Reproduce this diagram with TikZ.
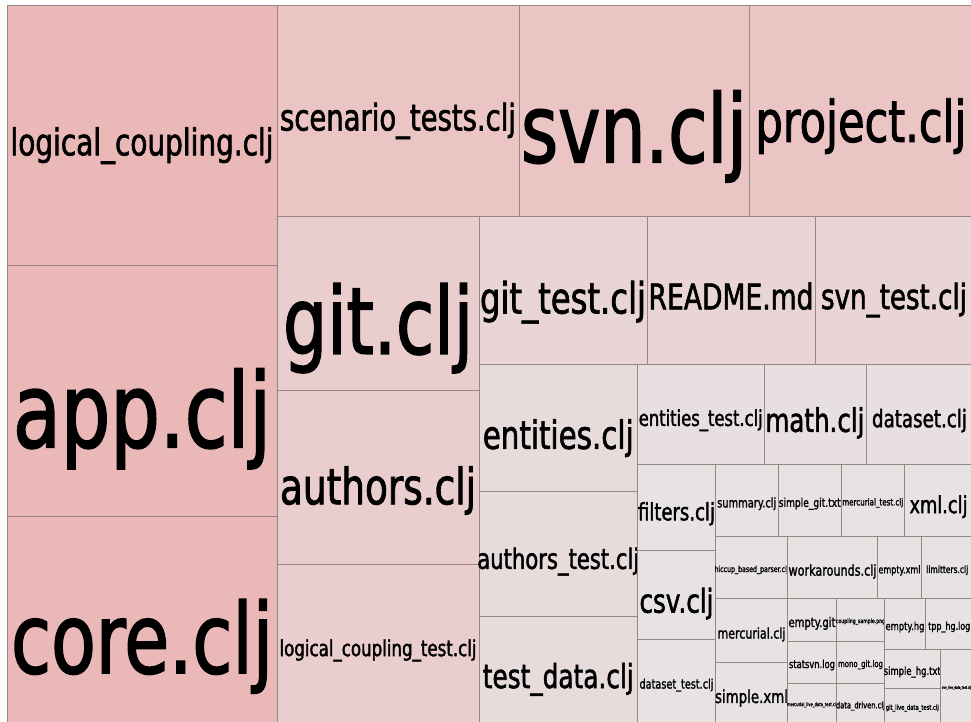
\documentclass[tikz,border=0pt]{standalone}
\usepackage{fontspec}
\setmainfont{DejaVu Sans}[FakeStretch=0.75, FakeBold=1.6]
\usepackage{tikz}
\tikzstyle{treemap} = [x = 0.02cm, y = -0.02cm]
\definecolor{cellBorder}{RGB}{150,134,134}
\definecolor{heatOne}{HTML}{EBB8B8}
\definecolor{heatTwo}{HTML}{EBC4C4}
\definecolor{heatThree}{HTML}{EACDCD}
\definecolor{heatFour}{HTML}{E9D5D5}
\definecolor{heatFive}{HTML}{E8DBDB}
\definecolor{heatSix}{HTML}{E8E0E0}
\definecolor{heatSeven}{HTML}{E7E3E3}
\tikzstyle{cellStyle} = [draw=cellBorder, line width=0.5pt]
\tikzstyle{cellText} = [anchor=base, inner sep=0pt, text=black]
\newlength{\labelWidth}
\newcommand{\fitText}[2]{\settowidth{\labelWidth}{\fontsize{10pt}{10pt}\selectfont #2}\pgfmathsetmacro{\labelSize}{10 * #1 * 0.569 / \labelWidth}\fontsize{\labelSize pt}{\labelSize pt}\selectfont\raisebox{-1ex}{#2}}
\newcommand{\fileCell}[8]{
  \filldraw [cellStyle, fill=#6] (#2, #3) rectangle (#4, #5);
  \node [cellText] (#1) at ({(#2 + #4) / 2}, {(#3 + #5) / 2}) {\fitText{#7}{#8}};
}

\begin{document}
\begin{tikzpicture}[treemap]
        \useasboundingbox (0, 0) rectangle (971, 722);
        \fileCell{logicalCoupling}{7}{5}{277}{265}{heatOne}{263}{logical\_coupling.clj}
        \fileCell{app}{7}{265}{277}{516}{heatOne}{258}{app.clj}
        \fileCell{core}{7}{516}{277}{724}{heatOne}{262}{core.clj}
        \fileCell{scenarioTests}{277}{5}{519}{216}{heatTwo}{236}{scenario\_tests.clj}
        \fileCell{svn}{519}{5}{749}{216}{heatTwo}{226}{svn.clj}
        \fileCell{project}{749}{5}{973}{216}{heatTwo}{211}{project.clj}
        \fileCell{git}{277}{216}{479}{390}{heatThree}{190}{git.clj}
        \fileCell{authors}{277}{390}{479}{564}{heatThree}{196}{authors.clj}
        \fileCell{logicalCouplingTest}{277}{564}{479}{724}{heatThree}{197}{logical\_coupling\_test.clj}
        \fileCell{gitTest}{479}{216}{647}{364}{heatFour}{166}{git\_test.clj}
        \fileCell{readme}{647}{216}{815}{364}{heatFour}{165}{README.md}
        \fileCell{svnTest}{815}{216}{973}{364}{heatFour}{146}{svn\_test.clj}
        \fileCell{entities}{479}{364}{637.5}{491}{heatFive}{151}{entities.clj}
        \fileCell{authorsTest}{479}{491}{637.5}{616}{heatFive}{162}{authors\_test.clj}
        \fileCell{testData}{479}{616}{637.5}{724}{heatFive}{151}{test\_data.clj}
        \fileCell{entitiesTest}{637.5}{364}{764}{464}{heatSix}{124}{entities\_test.clj}
        \fileCell{math}{764}{364}{866}{464}{heatSix}{99}{math.clj}
        \fileCell{dataset}{866}{364}{973}{464}{heatSix}{95}{dataset.clj}
        % the many small files
        \fileCell{filters}{637.5}{464}{715.5}{550.5}{heatSeven}{77}{filters.clj}
        \fileCell{csv}{637.5}{550.5}{715.5}{639}{heatSeven}{74}{csv.clj}
        \fileCell{datasetTest}{637.5}{639}{715.5}{724}{heatSeven}{74}{dataset\_test.clj}
        \fileCell{summary}{715.5}{464}{778}{536.5}{heatSeven}{59}{summary.clj}
        \fileCell{simpleGit}{778}{464}{841.5}{536.5}{heatSeven}{62}{simple\_git.txt}
        \fileCell{mercurialTest}{841.5}{464}{904}{536.5}{heatSeven}{61}{mercurial\_test.clj}
        \fileCell{xml}{904}{464}{973}{536.5}{heatSeven}{58}{xml.clj}
        \fileCell{hiccup}{715.5}{536.5}{787.5}{598.5}{heatSeven}{74}{hiccup\_based\_parser.clj}
        \fileCell{workarounds}{787.5}{536.5}{877.5}{598.5}{heatSeven}{88}{workarounds.clj}
        \fileCell{emptyXml}{877.5}{536.5}{921.5}{598.5}{heatSeven}{42}{empty.xml}
        \fileCell{limitters}{921.5}{536.5}{973}{598.5}{heatSeven}{42}{limitters.clj}
        \fileCell{mercurial}{715.5}{598.5}{787.5}{662.5}{heatSeven}{68}{mercurial.clj}
        \fileCell{simpleXml}{715.5}{662.5}{787.5}{724}{heatSeven}{73}{simple.xml}
        \fileCell{emptyGit}{787.5}{598.5}{836.5}{641}{heatSeven}{47}{empty.git}
        \fileCell{statsvn}{787.5}{641}{836.5}{683}{heatSeven}{46}{statsvn.log}
        \fileCell{mercurialLive}{787.5}{683}{836.5}{724}{heatSeven}{50}{mercurial\_live\_data\_test.clj}
        \fileCell{couplingSample}{836.5}{598.5}{884.5}{641}{heatSeven}{49}{coupling\_sample.png}
        \fileCell{monoGit}{836.5}{641}{884.5}{683}{heatSeven}{45}{mono\_git.log}
        \fileCell{dataDriven}{836.5}{683}{884.5}{724}{heatSeven}{49}{data\_driven.clj}
        \fileCell{emptyHg}{884.5}{598.5}{925.5}{649.5}{heatSeven}{39}{empty.hg}
        \fileCell{tppHg}{925.5}{598.5}{973}{649.5}{heatSeven}{42}{tpp\_hg.log}
        \fileCell{simpleHg}{884.5}{649.5}{940}{688}{heatSeven}{57}{simple\_hg.txt}
        \fileCell{gitLive}{884.5}{688}{940}{724}{heatSeven}{53}{git\_live\_data\_test.clj}
        \fileCell{svnLive}{940}{649.5}{973}{724}{heatSeven}{29}{svn\_live\_data\_test.clj}
\end{tikzpicture}
\end{document}
